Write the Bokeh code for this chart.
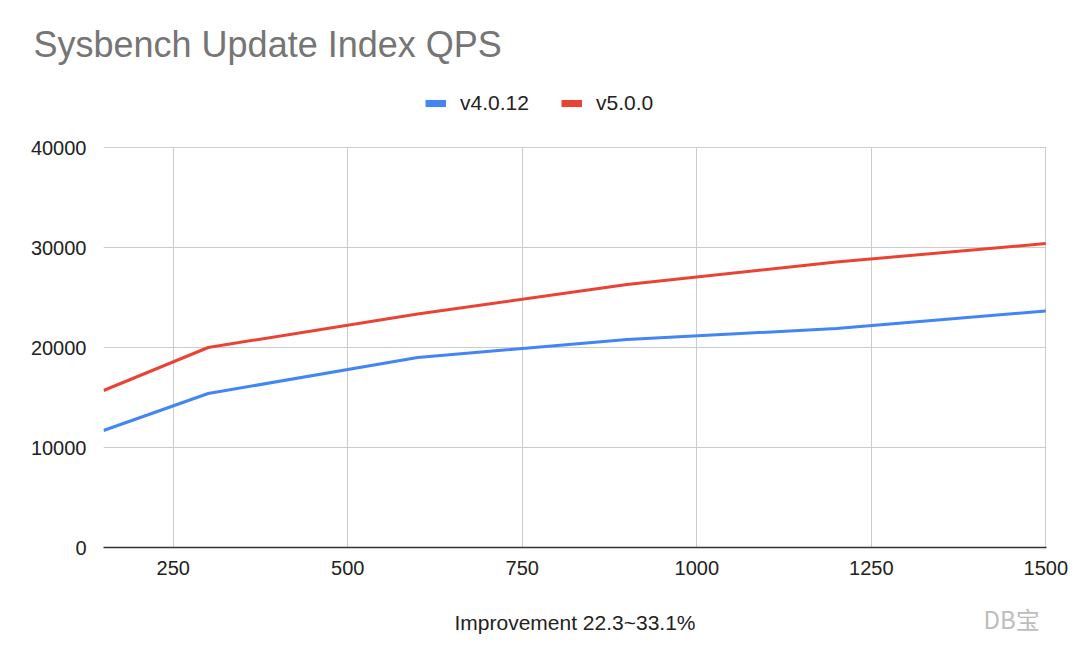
from bokeh.plotting import figure
from bokeh.models import (Range1d, FixedTicker, Label, Legend, LegendItem, BoxAnnotation,
                          ColumnDataSource)
from bokeh.embed import file_html
from bokeh.resources import INLINE

# Data
threads = [150, 300, 600, 900, 1200, 1500]
qps_v4012 = [11700, 15400, 19000, 20800, 21900, 23650]
qps_v500 = [15700, 20000, 23350, 26300, 28550, 30400]
x_ticks = [250, 500, 750, 1000, 1250, 1500]
y_ticks = [0, 10000, 20000, 30000, 40000]
series_names = ["v4.0.12", "v5.0.0"]
series_colors = ["#4285F4", "#EA4335"]
title_text = "Sysbench Update Index QPS"
x_title = "Improvement 22.3~33.1%"
watermark = "DB宝"

FONT = "Liberation Sans"
W, H = 1080, 668
FRAME_L, FRAME_R, FRAME_B = 103, 1046, 547
PLOT_TOP = 147          # pixel row of the top value
FRAME_T = 80            # frame extended upward to host the legend
y_max = y_ticks[-1]
y_end = y_max * (FRAME_B - FRAME_T) / (FRAME_B - PLOT_TOP)

src = ColumnDataSource(dict(x=threads, a=qps_v4012, b=qps_v500))

# range end nudged past the last tick so its grid line is drawn at the edge
p = figure(width=W, height=H, output_backend="svg", toolbar_location=None,
           x_range=Range1d(threads[0], threads[-1] + 1), y_range=Range1d(0, y_end),
           min_border_left=FRAME_L, min_border_right=W - FRAME_R,
           min_border_top=FRAME_T, min_border_bottom=H - FRAME_B)
p.outline_line_color = None
p.title.text = ""
p.xaxis.ticker = FixedTicker(ticks=x_ticks)
p.yaxis.ticker = FixedTicker(ticks=y_ticks)
for ax in (p.xaxis[0], p.yaxis[0]):
    ax.major_tick_line_color = None
    ax.minor_tick_line_color = None
    ax.major_label_text_font = FONT
    ax.major_label_text_font_size = "20px"
    ax.major_label_text_color = "#222222"
p.yaxis.axis_line_color = None
p.yaxis.major_label_standoff = 11
p.xaxis.axis_line_color = "#333333"
p.xaxis.axis_line_width = 1.5
p.xaxis.major_label_standoff = 7
p.xgrid.ticker = FixedTicker(ticks=x_ticks)
p.ygrid.ticker = FixedTicker(ticks=y_ticks)
p.xgrid.grid_line_color = "#cccccc"
p.ygrid.grid_line_color = "#cccccc"

# blank out the extended area above the top value
p.add_layout(BoxAnnotation(bottom=y_max + 60, fill_color="white", fill_alpha=1.0,
                           line_color=None, level="underlay"))

p.line("x", "a", source=src, line_color=series_colors[0], line_width=3)
p.line("x", "b", source=src, line_color=series_colors[1], line_width=3)

# legend swatches (thick bars): hidden renderers, shown only as legend glyphs
s1 = p.line("x", "a", source=src, line_color=series_colors[0], line_width=7,
            line_cap="butt", visible=False)
s2 = p.line("x", "b", source=src, line_color=series_colors[1], line_width=7,
            line_cap="butt", visible=False)

for rend, name, gx in ((s1, series_names[0], 425), (s2, series_names[1], 561)):
    lg = Legend(items=[LegendItem(label=name, renderers=[rend])],
                location=(gx - FRAME_L, FRAME_B - 114.5), orientation="horizontal",
                border_line_color=None, background_fill_alpha=0, padding=0, margin=0,
                inactive_fill_alpha=0, click_policy="none",
                glyph_width=21, glyph_height=24, label_height=24, label_standoff=14,
                label_text_font=FONT, label_text_font_size="21px", label_text_color="#222222")
    p.add_layout(lg, "center")

# title (top panel)
p.add_layout(Label(x=-70, y=36, x_units="screen", y_units="screen", text=title_text,
                   text_font=FONT, text_font_size="36px", text_color="#757575",
                   text_baseline="alphabetic", text_align="left"), "above")

# bottom panel texts
p.add_layout(Label(x=(FRAME_R - FRAME_L) / 2, y=-22, x_units="screen", y_units="screen",
                   text=x_title, text_font=FONT, text_font_size="21px", text_color="#222222",
                   text_baseline="middle", text_align="center"), "below")
p.add_layout(Label(x=983 - FRAME_L, y=17, x_units="screen", y_units="screen", text=watermark,
                   text_font="Noto Sans CJK SC", text_font_size="24px", text_color="#bdbdbd",
                   text_baseline="middle", text_align="left"), "below")

open("out.html", "w").write(file_html(p, INLINE))
